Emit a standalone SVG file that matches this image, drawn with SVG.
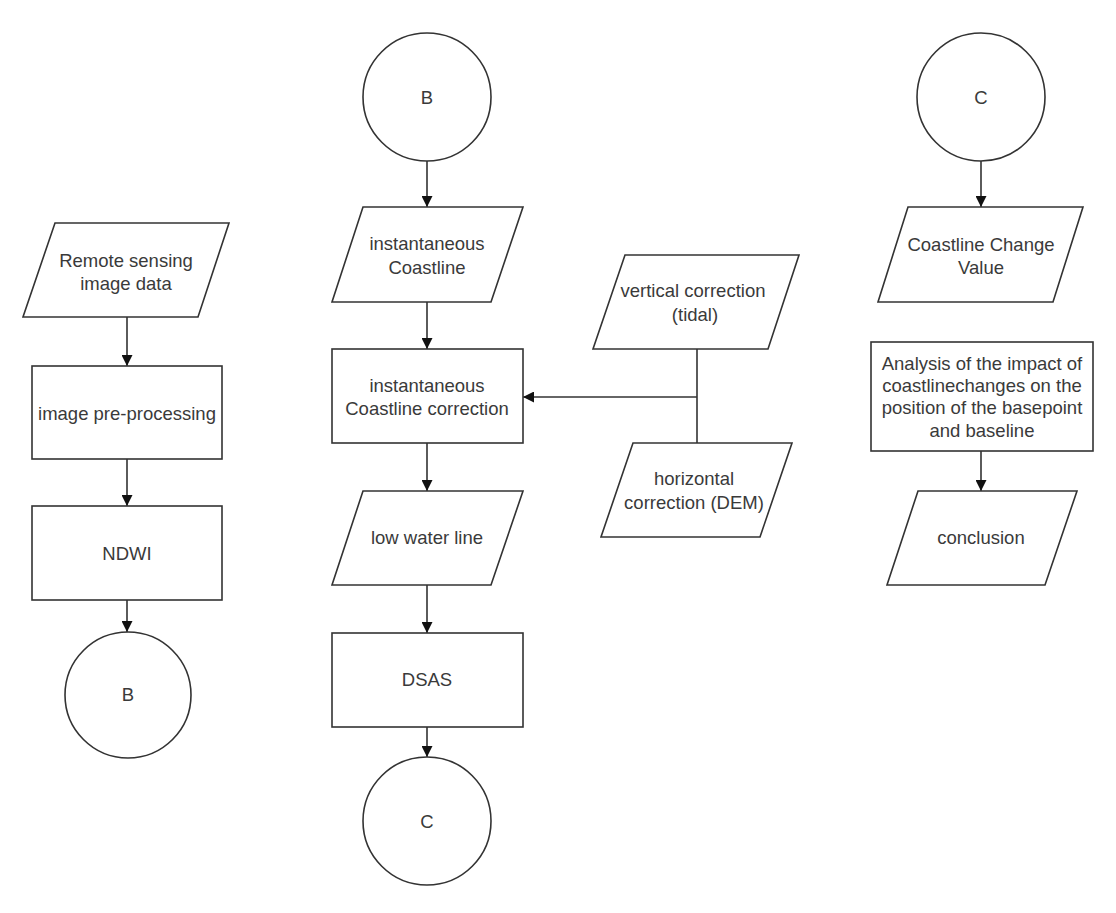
<svg xmlns="http://www.w3.org/2000/svg" width="1116" height="913" viewBox="0 0 1116 913">
<style>
.s{fill:#fff;stroke:#333;stroke-width:1.6}
.t{font-family:"Liberation Sans",Arial,sans-serif;font-size:18.5px;fill:#3a3a3a;text-anchor:middle;dominant-baseline:central}
.c{fill:none;stroke:#333;stroke-width:1.6}
</style>
<defs>
<marker id="ah" viewBox="0 0 10 10" refX="10" refY="5" markerWidth="11" markerHeight="11" markerUnits="userSpaceOnUse" orient="auto">
<path d="M0,0 L10,5 L0,10 z" fill="#111"/>
</marker>
</defs>
<rect width="1116" height="913" fill="#fff"/>
<g id="connectors">
<line class="c" x1="127" y1="317" x2="127" y2="366" marker-end="url(#ah)"/>
<line class="c" x1="127" y1="459" x2="127" y2="506" marker-end="url(#ah)"/>
<line class="c" x1="127" y1="600" x2="127" y2="632" marker-end="url(#ah)"/>
<line class="c" x1="427" y1="161" x2="427" y2="207" marker-end="url(#ah)"/>
<line class="c" x1="427" y1="302" x2="427" y2="349" marker-end="url(#ah)"/>
<line class="c" x1="427" y1="443" x2="427" y2="491" marker-end="url(#ah)"/>
<line class="c" x1="427" y1="585" x2="427" y2="633" marker-end="url(#ah)"/>
<line class="c" x1="427" y1="727" x2="427" y2="757" marker-end="url(#ah)"/>
<line class="c" x1="697" y1="349" x2="697" y2="443"/>
<line class="c" x1="697" y1="397" x2="523" y2="397" marker-end="url(#ah)"/>
<line class="c" x1="981" y1="161" x2="981" y2="207" marker-end="url(#ah)"/>
<line class="c" x1="981" y1="451" x2="981" y2="491" marker-end="url(#ah)"/>
</g>
<g id="remote">
<polygon class="s" points="55,223 229,223 198,317 23,317"/>
<text class="t" x="126" y="260">Remote sensing</text>
<text class="t" x="126" y="283">image data</text>
</g>
<g id="preproc">
<rect class="s" x="32" y="366" width="190" height="93"/>
<text class="t" x="127" y="413">image pre-processing</text>
</g>
<g id="ndwi">
<rect class="s" x="32" y="506" width="190" height="94"/>
<text class="t" x="127" y="553">NDWI</text>
</g>
<g id="b1">
<circle class="s" cx="128" cy="695" r="63"/>
<text class="t" x="128" y="694">B</text>
</g>
<g id="b2">
<circle class="s" cx="427" cy="97" r="64"/>
<text class="t" x="427" y="97">B</text>
</g>
<g id="instCoast">
<polygon class="s" points="363,207 523,207 491,302 332,302"/>
<text class="t" x="427" y="243">instantaneous</text>
<text class="t" x="427" y="267">Coastline</text>
</g>
<g id="instCorr">
<rect class="s" x="332" y="349" width="191" height="94"/>
<text class="t" x="427" y="385">instantaneous</text>
<text class="t" x="427" y="408">Coastline correction</text>
</g>
<g id="lowWater">
<polygon class="s" points="363,491 523,491 491,585 332,585"/>
<text class="t" x="427" y="537">low water line</text>
</g>
<g id="dsas">
<rect class="s" x="332" y="633" width="191" height="94"/>
<text class="t" x="427" y="679">DSAS</text>
</g>
<g id="c1">
<circle class="s" cx="427" cy="821" r="64"/>
<text class="t" x="427" y="821">C</text>
</g>
<g id="vertical">
<polygon class="s" points="625,255 799,255 768,349 593,349"/>
<text class="t" x="693" y="290">vertical correction</text>
<text class="t" x="695" y="314">(tidal)</text>
</g>
<g id="horizontal">
<polygon class="s" points="633,443 792,443 760,537 601,537"/>
<text class="t" x="694" y="478">horizontal</text>
<text class="t" x="694" y="502">correction (DEM)</text>
</g>
<g id="c2">
<circle class="s" cx="981" cy="97" r="64"/>
<text class="t" x="981" y="97">C</text>
</g>
<g id="changeValue">
<polygon class="s" points="908,207 1083,207 1053,302 878,302"/>
<text class="t" x="981" y="244">Coastline Change</text>
<text class="t" x="981" y="267">Value</text>
</g>
<g id="analysis">
<rect class="s" x="871" y="342" width="222" height="109"/>
<text class="t" x="982" y="363">Analysis of the impact of</text>
<text class="t" x="982" y="385">coastlinechanges on the</text>
<text class="t" x="982" y="407">position of the basepoint</text>
<text class="t" x="982" y="430">and baseline</text>
</g>
<g id="conclusion">
<polygon class="s" points="918,491 1077,491 1045,585 887,585"/>
<text class="t" x="981" y="537">conclusion</text>
</g>
</svg>
